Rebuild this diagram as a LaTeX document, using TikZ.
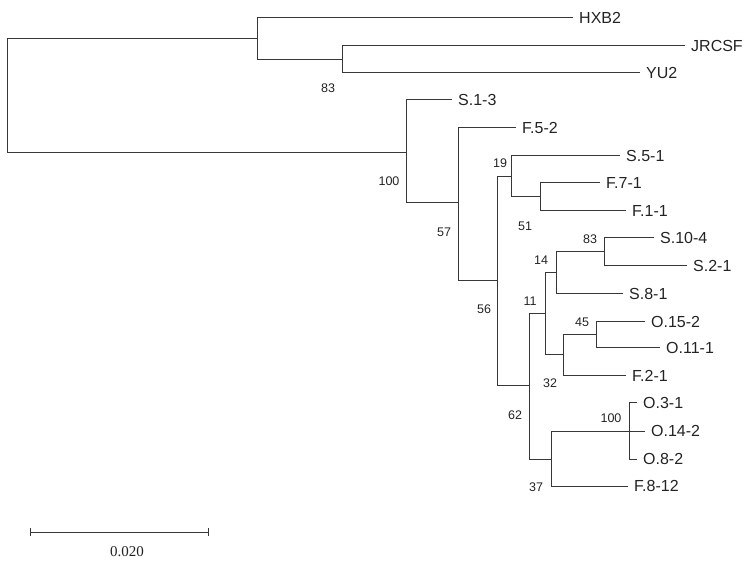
\documentclass[tikz,border=0pt]{standalone}
\usepackage{fontspec}
\setmainfont{Liberation Sans}
\newfontfamily\barfont{Liberation Serif}
\usetikzlibrary{arrows.meta}
\definecolor{branchgray}{RGB}{55, 55, 55}
\definecolor{labelgray}{RGB}{35, 35, 35}

\begin{document}
\begin{tikzpicture}[x=1pt, y=-1pt,
  branch/.style={draw=branchgray, line width=1pt},
  leaf/.style={anchor=west, inner xsep=6pt, inner ysep=0pt, font=\fontsize{16}{16}\selectfont, text=labelgray},
  boot/.style={inner sep=0pt, font=\fontsize{12.5}{12.5}\selectfont, text=labelgray}
]
  \useasboundingbox (0,0) rectangle (756,564);

  % Internal nodes
  \coordinate (root) at (7, 96);
  \coordinate (A) at (257, 39);
  \coordinate (B) at (342, 60);
  \coordinate (C) at (406, 153);
  \coordinate (D) at (458, 203);
  \coordinate (E) at (497, 281);
  \coordinate (F) at (511, 177);
  \coordinate (G) at (540, 197);
  \coordinate (H) at (529, 386);
  \coordinate (I) at (545, 314);
  \coordinate (J) at (556, 273);
  \coordinate (K) at (604, 252);
  \coordinate (L) at (563, 355);
  \coordinate (M) at (596, 335);
  \coordinate (N) at (551, 459);
  \coordinate (O) at (629, 431);

  % Leaves
  \node[leaf] (hxb2) at (573, 18) {HXB2};
  \node[leaf] (jrcsf) at (685, 46) {JRCSF};
  \node[leaf] (yu2) at (640, 73) {YU2};
  \node[leaf] (s13) at (452, 100) {S.1-3};
  \node[leaf] (f52) at (516, 128) {F.5-2};
  \node[leaf] (s51) at (620, 156) {S.5-1};
  \node[leaf] (f71) at (600, 183) {F.7-1};
  \node[leaf] (f11) at (626, 211) {F.1-1};
  \node[leaf] (s104) at (654, 238) {S.10-4};
  \node[leaf] (s21) at (687, 266) {S.2-1};
  \node[leaf] (s81) at (623, 294) {S.8-1};
  \node[leaf] (o152) at (645, 322) {O.15-2};
  \node[leaf] (o111) at (660, 348) {O.11-1};
  \node[leaf] (f21) at (626, 376) {F.2-1};
  \node[leaf] (o31) at (637, 403) {O.3-1};
  \node[leaf] (o142) at (645, 431) {O.14-2};
  \node[leaf] (o82) at (637, 459) {O.8-2};
  \node[leaf] (f812) at (628, 486) {F.8-12};

  % Branches
  \draw[branch] (root) |- (A) (root) |- (C);
  \draw[branch] (A) |- (hxb2.west) (A) |- (B);
  \draw[branch] (B) |- (jrcsf.west) (B) |- (yu2.west);
  \draw[branch] (C) |- (s13.west) (C) |- (D);
  \draw[branch] (D) |- (f52.west) (D) |- (E);
  \draw[branch] (E) |- (F) (E) |- (H);
  \draw[branch] (F) |- (s51.west) (F) |- (G);
  \draw[branch] (G) |- (f71.west) (G) |- (f11.west);
  \draw[branch] (H) |- (I) (H) |- (N);
  \draw[branch] (I) |- (J) (I) |- (L);
  \draw[branch] (J) |- (K) (J) |- (s81.west);
  \draw[branch] (K) |- (s104.west) (K) |- (s21.west);
  \draw[branch] (L) |- (M) (L) |- (f21.west);
  \draw[branch] (M) |- (o152.west) (M) |- (o111.west);
  \draw[branch] (N) |- (O) (N) |- (f812.west);
  \draw[branch] (O) |- (o31.west) (O) |- (o142.west) (O) |- (o82.west);

  % Bootstrap values
  \node[boot] (bB) at (328, 88) {83};
  \node[boot] (bC) at (389, 181) {100};
  \node[boot] (bD) at (444, 232) {57};
  \node[boot] (bF) at (500, 163) {19};
  \node[boot] (bG) at (525, 226) {51};
  \node[boot] (bE) at (484, 309) {56};
  \node[boot] (bJ) at (541, 260) {14};
  \node[boot] (bK) at (590, 239) {83};
  \node[boot] (bI) at (530, 301) {11};
  \node[boot] (bM) at (582, 322) {45};
  \node[boot] (bL) at (550, 383) {32};
  \node[boot] (bH) at (515, 415) {62};
  \node[boot] (bO) at (611, 418) {100};
  \node[boot] (bN) at (536, 487) {37};

  % Scale bar
  \coordinate (barl) at (30, 532);
  \coordinate (barr) at (209, 532);
  \draw[branch, {Bar[width=8pt]}-{Bar[width=8pt]}] (barl) -- (barr);
  \node[font=\barfont\fontsize{15}{15}\selectfont, text=labelgray] (barlabel) at (127, 552) {0.020};
\end{tikzpicture}
\end{document}
